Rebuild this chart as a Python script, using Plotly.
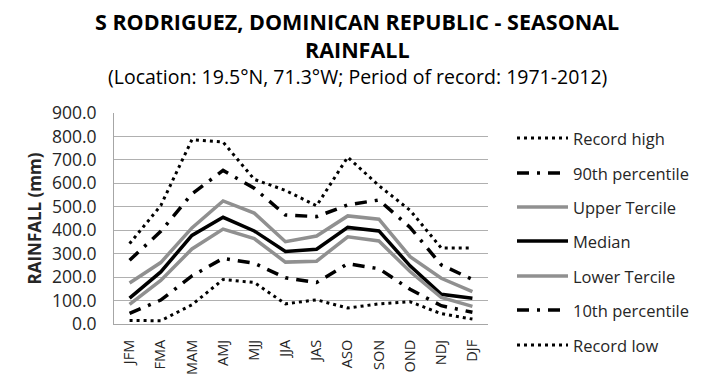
import plotly.graph_objects as go

seasons = ["JFM", "FMA", "MAM", "AMJ", "MJJ", "JJA", "JAS", "ASO", "SON", "OND", "NDJ", "DJF"]
record_high = [343, 505, 786, 776, 617, 570, 504, 712, 590, 485, 324, 324]
p90 = [272, 395, 555, 655, 579, 465, 458, 508, 529, 412, 252, 190]
upper_tercile = [175, 262, 410, 525, 473, 351, 375, 461, 447, 287, 195, 138]
median = [110, 222, 378, 455, 397, 309, 319, 412, 397, 248, 127, 110]
lower_tercile = [84, 186, 320, 405, 364, 264, 268, 372, 354, 224, 113, 75]
p10 = [45, 102, 205, 280, 259, 197, 177, 257, 236, 148, 78, 50]
record_low = [15, 14, 82, 190, 177, 86, 103, 68, 86, 95, 44, 21]
y_ticks = [0, 100, 200, 300, 400, 500, 600, 700, 800, 900]

series = [
    ("Record high", record_high, "#000000", 3, "3px,4px"),
    ("90th percentile", p90, "#000000", 3.5, "12px,8px,3px,8px"),
    ("Upper Tercile", upper_tercile, "#909090", 3.5, "solid"),
    ("Median", median, "#000000", 3.5, "solid"),
    ("Lower Tercile", lower_tercile, "#909090", 3.5, "solid"),
    ("10th percentile", p10, "#000000", 3.5, "12px,8px,3px,8px"),
    ("Record low", record_low, "#000000", 3, "3px,4px"),
]

# page offset (body margin) and plot-area geometry in page pixels
O = 8
W, H = 710 - O, 375 - O
L, R, T, B = 114, 488, 113, 324
PW, PH = R - L, B - T


def px(x):
    return (x - L) / PW


def py(y):
    return (B - y) / PH


fig = go.Figure()
annotations = []
shapes = []
legend_rows = [138, 173, 207, 241, 276, 310, 345]
for i, (name, vals, col, w, dash) in enumerate(series):
    fig.add_trace(go.Scatter(
        x=seasons, y=vals, name=name, mode="lines",
        line=dict(color=col, width=w, dash=dash),
        showlegend=False,
    ))
    yy = py(legend_rows[i])
    shapes.append(dict(type="line", xref="paper", yref="paper",
                       x0=px(517), x1=px(568), y0=yy, y1=yy,
                       line=dict(color=col, width=w, dash=dash)))
    annotations.append(dict(text=name, xref="paper", yref="paper",
                            x=px(571), y=yy, xanchor="left", yanchor="middle",
                            showarrow=False, font=dict(size=16.5, color="#262626")))

cx = px(357)
annotations += [
    dict(text="<b>S RODRIGUEZ, DOMINICAN REPUBLIC - SEASONAL</b>", xref="paper", yref="paper",
         x=cx, y=py(21.5), xanchor="center", yanchor="middle",
         showarrow=False, font=dict(size=21.5, color="#000000")),
    dict(text="<b>RAINFALL</b>", xref="paper", yref="paper",
         x=cx, y=py(49), xanchor="center", yanchor="middle",
         showarrow=False, font=dict(size=21.5, color="#000000")),
    dict(text="(Location: 19.5°N, 71.3°W; Period of record: 1971-2012)", xref="paper", yref="paper",
         x=cx, y=py(76), xanchor="center", yanchor="middle",
         showarrow=False, font=dict(size=19.5, color="#000000")),
]
shapes += [
    dict(type="line", xref="paper", yref="paper",
         x0=px(708), x1=px(708), y0=py(H + O + 5), y1=py(O - 5),
         line=dict(color="#808080", width=3)),
]

fig.update_layout(
    width=W, height=H,
    margin=dict(l=L - O, r=W + O - R, t=T - O, b=H + O - B, autoexpand=False),
    paper_bgcolor="white", plot_bgcolor="white",
    font=dict(family="Open Sans, sans-serif", color="#262626"),
    showlegend=False,
    xaxis=dict(
        type="category", tickangle=-90, automargin=False,
        tickfont=dict(size=14.5, color="#262626"),
        showgrid=False, showline=True, linecolor="#a6a6a6", linewidth=1,
        ticks="", range=[-0.5, 11.5], ticklabelstandoff=9,
    ),
    yaxis=dict(
        range=[0, 900], tickvals=y_ticks, automargin=False,
        ticktext=["%.1f" % v for v in y_ticks],
        tickfont=dict(size=17.5, color="#262626"),
        showgrid=True, gridcolor="#b0b0b0", gridwidth=1,
        showline=True, linecolor="#a6a6a6", linewidth=1,
        ticks="", zeroline=False, ticklabelstandoff=13,
        title=dict(text="<b>RAINFALL (mm)</b>", font=dict(size=17, color="#262626"), standoff=5),
    ),
    annotations=annotations,
    shapes=shapes,
)

fig.write_html("out.html")
